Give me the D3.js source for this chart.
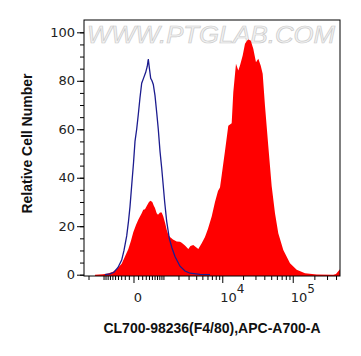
<!DOCTYPE html>
<html><head><meta charset="utf-8">
<script src="https://cdn.jsdelivr.net/npm/d3@7"></script>
<style>html,body{margin:0;padding:0;background:#fff;}svg{display:block;}</style>
</head><body>
<script>
// Sample (red, filled) histogram: channel value, relative count
const sampleX = [-1510,-1029,-785,-577,-433,-286,-195,-113,-52,-4,52,103,187,229,277,337,400,450,514,566,616,685,741,831,912,993,1083,1178,1272,1378,1579,1855,2131,2284,2608,2967,3228,3588,3894,4316,4883,5494,6110,6953,7795,8641,9250,9801,10959,12244,13722,14472,15831,17081,18069,19750,21306,22750,23738,25675,27950,30525,32888,35556,37938,40881,45494,50781,56488,62831,73813,91563,113500,148125,215500,366250,399400,432500,453000];
const sampleY = [0,0.2,0.5,1.2,2.5,4.5,7.5,10.5,14,17.5,20.5,22.7,25.4,26.8,27,28.5,30,30.5,30,28.5,27.5,25.4,24.7,25.7,25.7,24,21.5,18.5,16.5,15.5,14.5,13.7,13.6,13.2,12,10.6,11.8,12.3,11.5,10.6,13,15.5,19,24,30,34.5,36,41,51,61.4,62.5,75.3,87,84.2,86.3,90.4,95.3,96.5,97,96.6,93.2,87.7,89.1,86.3,82.9,69.7,53.1,36.5,25.4,17.1,10.2,4.7,2,0.6,0.1,0,0.3,1.5,2.2];
// Control (blue line) histogram
const controlX = [-927,-698,-539,-400,-286,-221,-151,-108,-74,-24,0,31,67,103,144,187,235,298,346,377,410,457,503,551,616,685,754,831,912,993,1066,1178,1334,1510,1724,2131,2608,3168,4593,6553];
const controlY = [0,0.3,1,3,6,10,16,22,28,40,46,55,60,66,73,79,81,83.5,86,89,85.5,81,80,78.5,74,67,60,51,44,36.5,30,22,15,11,7.5,3.5,1.5,0.6,0.1,0];

const yTicks = [0,20,40,60,80,100];
const xMajor = [0,10000,100000];
const xMajorLabels = [{base:"0",exp:""},{base:"10",exp:"4"},{base:"10",exp:"5"}];
const xLabel = "CL700-98236(F4/80),APC-A700-A";
const yLabel = "Relative Cell Number";
const watermark = "WWW.PTGLAB.COM";

const W = 361, H = 356;
const L = 84, R = 340, T = 20, B = 276;

const x = d3.scaleSymlog().constant(625).domain([-2406, 453900]).range([L, R]);
const y = d3.scaleLinear().domain([-0.54, 105.08]).range([B, T]);

const svg = d3.select("body").append("svg").attr("width", W).attr("height", H);

svg.append("defs").append("clipPath").attr("id","clip")
  .append("rect").attr("x",L).attr("y",T).attr("width",R-L).attr("height",B-T);

// watermark
svg.append("text").attr("x", 87).attr("y", 43)
  .attr("textLength", 248).attr("lengthAdjust","spacingAndGlyphs")
  .attr("font-family","Liberation Sans, Arial, sans-serif").attr("font-size", 24)
  .attr("font-style","italic")
  .attr("fill","#f2f2f2").attr("stroke","#cccccc").attr("stroke-width",0.7)
  .text(watermark);

const g = svg.append("g").attr("clip-path","url(#clip)");

const sample = sampleX.map((v,i)=>[v, sampleY[i]]);
const control = controlX.map((v,i)=>[v, controlY[i]]);

g.append("path").datum(sample)
  .attr("d", d3.area().x(d=>x(d[0])).y0(y(-0.54)).y1(d=>y(d[1])))
  .attr("fill","#ff0000");

g.append("path").datum(control)
  .attr("d", d3.line().x(d=>x(d[0])).y(d=>y(d[1])))
  .attr("fill","none").attr("stroke","#1c1c8f").attr("stroke-width",1.3);

// frame
svg.append("rect").attr("x",L).attr("y",T).attr("width",R-L).attr("height",B-T)
  .attr("fill","none").attr("stroke","#000").attr("stroke-width",1);

// y axis
const yMinor = d3.range(0, 101, 5);
svg.append("g").attr("transform",`translate(${L},0)`)
  .call(d3.axisLeft(y).tickValues(yMinor).tickSize(4).tickFormat(""))
  .call(s=>s.select(".domain").remove());
svg.append("g").attr("transform",`translate(${L},0)`)
  .call(d3.axisLeft(y).tickValues(yTicks).tickSize(7).tickPadding(2))
  .call(s=>s.select(".domain").remove())
  .call(s=>s.selectAll("text").attr("font-family","DejaVu Sans, sans-serif").attr("font-size",13).attr("fill","#222"));

// x axis minor ticks
const xMinor = [-2000,-1000].concat(d3.range(-900, 1000, 100).filter(v=>v!==0), [1000],
  d3.range(2000, 10000, 1000), d3.range(20000, 100000, 10000), d3.range(200000, 500000, 100000));
svg.append("g").attr("transform",`translate(0,${B})`)
  .call(d3.axisBottom(x).tickValues(xMinor).tickSize(4).tickFormat(""))
  .call(s=>s.select(".domain").remove());
svg.append("g").attr("transform",`translate(0,${B})`)
  .call(d3.axisBottom(x).tickValues(xMajor).tickSize(7).tickFormat(""))
  .call(s=>s.select(".domain").remove());

// x major labels
xMajor.forEach((v,i)=>{
  const lab = xMajorLabels[i];
  const t = svg.append("text").attr("y", 302)
    .attr("font-family","DejaVu Sans, sans-serif").attr("font-size",13).attr("fill","#222");
  if (lab.exp === "") {
    t.attr("x", x(v)+4.5).attr("text-anchor","middle").text(lab.base);
  } else {
    t.attr("x", x(v)-2).attr("text-anchor","start");
    t.append("tspan").text(lab.base);
    t.append("tspan").attr("dy",-9).attr("font-size",12).text(lab.exp);
  }
});

// axis titles
svg.append("text").attr("x", 212).attr("y", 333).attr("text-anchor","middle")
  .attr("font-family","Liberation Sans, Arial, sans-serif").attr("font-weight","bold").attr("font-size",14)
  .attr("fill","#111").text(xLabel);
svg.append("text").attr("transform","translate(32,143.5) rotate(-90)").attr("text-anchor","middle")
  .attr("font-family","Liberation Sans, Arial, sans-serif").attr("font-weight","bold").attr("font-size",14)
  .attr("fill","#111").text(yLabel);
</script>
</body></html>
